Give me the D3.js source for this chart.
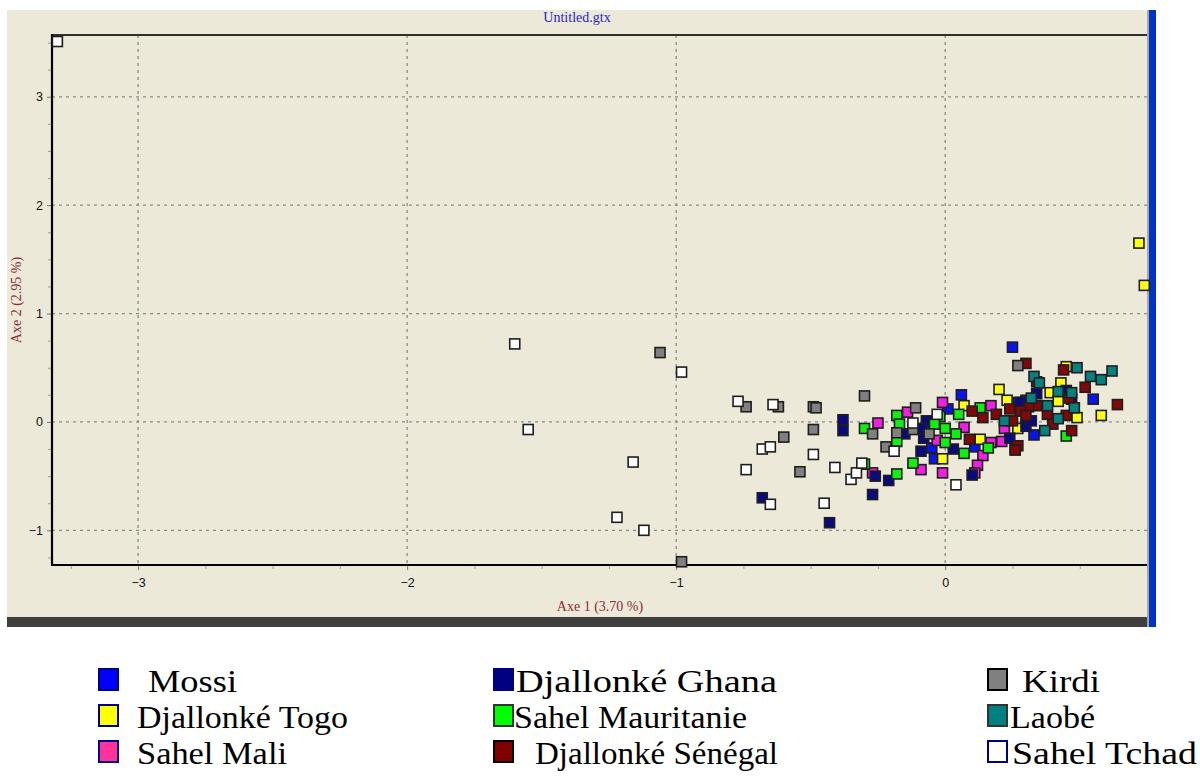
<!DOCTYPE html>
<html><head><meta charset="utf-8">
<script src="https://cdn.jsdelivr.net/npm/d3@7"></script>
<style>body{margin:0;background:#fff;overflow:hidden}</style>
</head><body><svg id="c" width="1200" height="783"></svg>
<script>
// ---- data (Axe 1, Axe 2) ----
const mossi = [[0.25,0.69],[0.06,0.25],[-0.04,-0.34],[-0.05,-0.24],[0.33,-0.12],[0.55,0.21],[0.27,0.18],[0.01,0.12],[0.11,-0.23],[0.30,0.20],[-0.06,-0.02]];
const djallonkeTogo = [[0.72,1.65],[0.74,1.26],[-0.01,-0.34],[0.20,0.30],[0.23,0.20],[0.07,0.15],[0.13,-0.16],[0.27,-0.06],[0.43,0.36],[0.39,0.27],[0.42,0.19],[0.49,0.04],[0.58,0.06],[0.45,0.51]];
const sahelMali = [[-0.25,-0.01],[-0.27,-0.47],[-0.14,0.09],[-0.01,0.18],[-0.03,-0.17],[-0.09,-0.44],[-0.01,-0.47],[0.07,-0.05],[0.17,0.15],[0.21,-0.18],[0.14,-0.31],[0.12,-0.40],[0.11,-0.47],[0.22,-0.06],[0.26,-0.25],[0.17,-0.19]];
const djallonkeGhana = [[-0.38,0.02],[-0.38,-0.08],[-0.68,-0.70],[-0.43,-0.93],[-0.27,-0.67],[-0.26,-0.50],[-0.21,-0.54],[-0.15,-0.11],[-0.07,0.01],[-0.08,-0.15],[-0.09,-0.27],[-0.09,-0.06],[0.03,-0.25],[0.10,-0.49],[0.24,-0.15],[0.30,-0.04],[0.34,0.26],[0.28,0.18],[0.32,0.01],[0.45,0.29],[0.47,0.21]];
const sahelMauritanie = [[-0.30,-0.06],[-0.30,-0.39],[-0.18,-0.48],[-0.12,-0.38],[-0.18,0.06],[-0.17,-0.02],[-0.18,-0.18],[-0.02,0.05],[-0.04,-0.02],[0.00,-0.06],[0.00,-0.19],[0.04,-0.11],[0.05,0.07],[0.13,0.13],[0.07,-0.29],[0.16,-0.24],[0.45,-0.13]];
const djallonkeSenegal = [[0.30,0.54],[0.34,0.37],[0.44,0.48],[0.52,0.32],[0.64,0.16],[0.46,0.22],[0.47,-0.08],[0.45,0.06],[0.40,-0.02],[0.38,0.07],[0.34,0.15],[0.31,0.14],[0.28,0.10],[0.24,0.12],[0.25,0.01],[0.30,0.06],[0.27,-0.22],[0.26,-0.26],[0.19,0.07],[0.14,0.04],[0.10,0.10],[0.09,-0.16]];
const kirdi = [[-1.06,0.64],[-0.98,-1.29],[-0.74,0.14],[-0.62,0.14],[-0.49,0.14],[-0.48,0.13],[-0.60,-0.14],[-0.49,-0.07],[-0.54,-0.46],[-0.30,0.24],[-0.27,-0.11],[-0.22,-0.23],[-0.18,-0.10],[-0.11,0.13],[-0.12,-0.07],[-0.06,-0.11],[0.27,0.52]];
const laobe = [[0.33,0.42],[0.49,0.50],[0.54,0.42],[0.58,0.39],[0.62,0.47],[0.42,0.28],[0.47,0.27],[0.48,0.13],[0.37,-0.08],[0.32,0.22],[0.38,0.15],[0.35,0.36],[0.42,0.03],[0.22,0.01]];
const sahelTchad = [[-3.30,3.51],[-1.60,0.72],[-1.55,-0.07],[-1.16,-0.37],[-1.22,-0.88],[-1.12,-1.00],[-0.98,0.46],[-0.77,0.19],[-0.64,0.16],[-0.68,-0.25],[-0.65,-0.23],[-0.74,-0.44],[-0.65,-0.76],[-0.49,-0.30],[-0.41,-0.42],[-0.45,-0.75],[-0.35,-0.53],[-0.33,-0.47],[-0.31,-0.38],[-0.19,-0.27],[-0.12,-0.01],[-0.03,0.07],[0.04,-0.58]];

const groupNames = ["Mossi","Djallonké Togo","Sahel Mali","Djallonké Ghana","Sahel Mauritanie","Djallonké Sénégal","Kirdi","Laobé","Sahel Tchad"];
const groupData = [mossi,djallonkeTogo,sahelMali,djallonkeGhana,sahelMauritanie,djallonkeSenegal,kirdi,laobe,sahelTchad];
const plotColors = ["#0a14f0","#ffff10","#f020e0","#0a0a80","#10f010","#800808","#808080","#088080","#ffffff"];
const legendColors = ["#0000ff","#ffff00","#ff3399","#000080","#00ff00","#800000","#808080","#008080","#ffffff"];
const legendBorders = ["#000080","#000080","#000080","#000080","#333333","#000000","#000000","#333333","#000080"];
const xTicks = [-3,-2,-1,0];
const yTicks = [-1,0,1,2,3];
const xTitle = "Axe 1 (3.70 %)";
const yTitle = "Axe 2 (2.95 %)";
const chartTitle = "Untitled.gtx";

// ---- layout ----
const legendTextX = [148,137,137,516,514,535,1022,1010,1012];
const legendTextW = [89,211,150,261,233,243,78,85,185];
const legendCol = [0,0,0,1,1,1,2,2,2];
const legendRow = [0,1,2,0,1,2,0,1,2];

// ---- drawing ----
const svg = d3.select("#c");
const L=52, R=1147, T=35, B=565;
const x = d3.scaleLinear().domain([-3.32,0.75]).range([L,R]);
const y = d3.scaleLinear().domain([-1.32,3.57]).range([B,T]);

svg.append("rect").attr("x",7).attr("y",10).attr("width",1141).attr("height",607).attr("fill","#ece9d8");
svg.append("rect").attr("x",7).attr("y",617).attr("width",1141).attr("height",10).attr("fill","#3f3f3f");
svg.append("rect").attr("x",1147).attr("y",10).attr("width",2).attr("height",617).attr("fill","#a8a8a0");
svg.append("rect").attr("x",1149).attr("y",10).attr("width",7).attr("height",617).attr("fill","#0033cc");

svg.append("text").attr("x",577).attr("y",22).attr("text-anchor","middle")
  .attr("font-family","Liberation Serif, serif").attr("font-size",14).attr("fill","#2626d0").text(chartTitle);

// grid
const grid = svg.append("g");
grid.selectAll("line.gx").data(xTicks).join("line").attr("x1",d=>x(d)).attr("x2",d=>x(d)).attr("y1",T).attr("y2",B)
  .attr("stroke","#8a8a8a").attr("stroke-width",1.3).attr("stroke-dasharray","3,4");
grid.selectAll("line.gy").data(yTicks).join("line").attr("x1",L).attr("x2",R).attr("y1",d=>y(d)).attr("y2",d=>y(d))
  .attr("stroke","#8a8a8a").attr("stroke-width",1.3).attr("stroke-dasharray","3,4");

// minor ticks
const xMinor = d3.range(-3.25,0.76,0.25).filter(v=>Math.abs(v-Math.round(v))>1e-6);
const yMinor = d3.range(-1.25,3.56,0.25).filter(v=>Math.abs(v-Math.round(v))>1e-6);
svg.append("g").attr("transform",`translate(0,${B})`).call(d3.axisBottom(x).tickValues(xMinor).tickFormat("").tickSize(4))
  .call(g=>{g.select(".domain").remove(); g.selectAll("line").attr("stroke","#999");});
svg.append("g").attr("transform",`translate(${L},0)`).call(d3.axisLeft(y).tickValues(yMinor).tickFormat("").tickSize(4))
  .call(g=>{g.select(".domain").remove(); g.selectAll("line").attr("stroke","#999");});

// major axes
const xa = svg.append("g").attr("transform",`translate(0,${B})`).call(d3.axisBottom(x).tickValues(xTicks).tickFormat(d3.format("d")).tickSize(5).tickPadding(8));
xa.select(".domain").remove();
xa.selectAll("line").attr("stroke","#777");
xa.selectAll("text").attr("font-family","Liberation Sans, Arial, sans-serif").attr("font-size",12.5).attr("fill","#111");
const ya = svg.append("g").attr("transform",`translate(${L},0)`).call(d3.axisLeft(y).tickValues(yTicks).tickFormat(d3.format("d")).tickSize(5).tickPadding(4));
ya.select(".domain").remove();
ya.selectAll("line").attr("stroke","#777");
ya.selectAll("text").attr("font-family","Liberation Sans, Arial, sans-serif").attr("font-size",12.5).attr("fill","#111");

// frame lines
svg.append("line").attr("x1",L).attr("x2",R).attr("y1",T).attr("y2",T).attr("stroke","#303030").attr("stroke-width",2);
svg.append("line").attr("x1",L).attr("x2",R).attr("y1",B).attr("y2",B).attr("stroke","#000").attr("stroke-width",2.2);
svg.append("line").attr("x1",L).attr("x2",L).attr("y1",T-1).attr("y2",B+1).attr("stroke","#000").attr("stroke-width",2.2);

// axis titles
svg.append("text").attr("x",600).attr("y",611).attr("text-anchor","middle").attr("font-family","Liberation Serif, serif")
  .attr("font-size",14).attr("fill","#8a2a3a").text(xTitle);
svg.append("text").attr("transform","translate(21,300) rotate(-90)").attr("text-anchor","middle").attr("font-family","Liberation Serif, serif")
  .attr("font-size",14).attr("fill","#8a2a3a").text(yTitle);

// points
const S=10;
const pg = svg.append("g");
groupData.forEach((pts,i)=>{
  pg.append("g").selectAll("rect").data(pts).join("rect")
    .attr("x",d=>x(d[0])-S/2).attr("y",d=>y(d[1])-S/2).attr("width",S).attr("height",S)
    .attr("fill",plotColors[i]).attr("stroke","#1e1e1e").attr("stroke-width",1.6);
});

// legend
const colX = [98,493,987];
const rowY = [692,728,764];
groupNames.forEach((name,gi)=>{
  const c = legendCol[gi], r = legendRow[gi];
  svg.append("rect").attr("x",colX[c]+1).attr("y",rowY[r]-23).attr("width",19).attr("height",21)
    .attr("fill",legendColors[gi]).attr("stroke",legendBorders[gi]).attr("stroke-width",2);
  svg.append("text").attr("x",legendTextX[gi]).attr("y",rowY[r]).attr("font-family","Liberation Serif, 'Times New Roman', serif")
    .attr("font-size",32).attr("textLength",legendTextW[gi]).attr("lengthAdjust","spacingAndGlyphs")
    .attr("fill","#000").text(name);
});
</script></body></html>
